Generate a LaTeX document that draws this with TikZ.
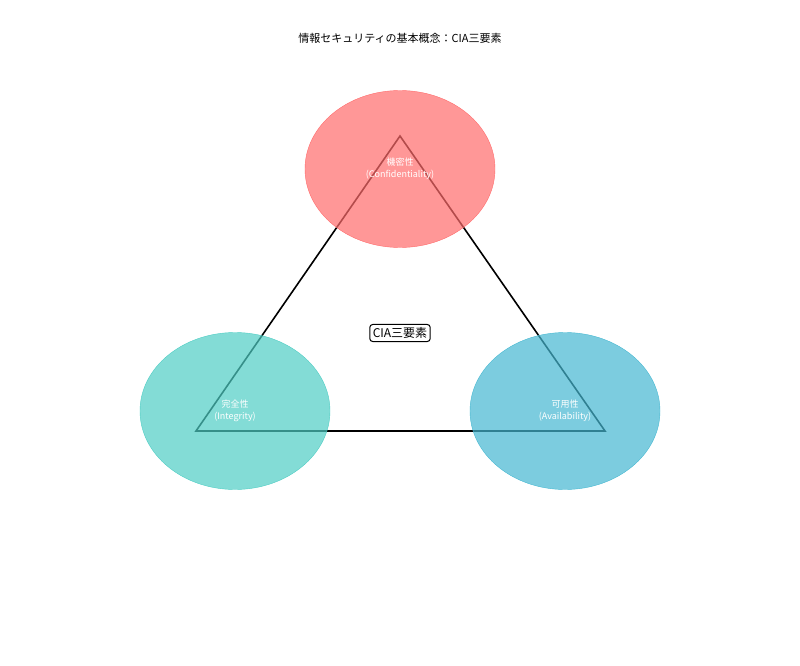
\documentclass[tikz,border=0pt]{standalone}
\usepackage{fontspec}
\setmainfont{Noto Sans CJK JP}
\begin{document}
\begin{tikzpicture}[x=1pt,y=-1pt,
  circ/.style={ellipse,minimum width=190pt,minimum height=157pt,fill opacity=0.7,text opacity=1,text=white,font=\fontsize{9}{11}\selectfont,align=center},
  tri/.style={line width=1.6pt,black}]
\useasboundingbox (0,0) rectangle (800,666);
\usetikzlibrary{shapes.geometric}
\node at (400,38) {\fontsize{11}{13}\selectfont 情報セキュリティの基本概念：CIA三要素};
\coordinate (C) at (400,136);
\coordinate (I) at (196,431);
\coordinate (A) at (605,431);
\draw[tri] (C) -- (I) -- (A) -- cycle;
\node[circ,fill={rgb,255:red,255;green,107;blue,107},draw={rgb,255:red,255;green,107;blue,107}] (c) at (400,169) {};
\node[circ,fill={rgb,255:red,78;green,205;blue,196},draw={rgb,255:red,78;green,205;blue,196}] (i) at (235,411) {};
\node[circ,fill={rgb,255:red,69;green,183;blue,209},draw={rgb,255:red,69;green,183;blue,209}] (a) at (565,411) {};
\node[text=white,font=\fontsize{9}{12}\selectfont,align=center] at (c) {機密性\\(Confidentiality)};
\node[text=white,font=\fontsize{9}{12}\selectfont,align=center] at (i) {完全性\\(Integrity)};
\node[text=white,font=\fontsize{9}{12}\selectfont,align=center] at (a) {可用性\\(Availability)};
\node[draw,rounded corners=3pt,line width=1pt,fill=white,inner sep=3pt,font=\fontsize{12}{14}\selectfont] (m) at (400,333) {CIA三要素};
\end{tikzpicture}
\end{document}
